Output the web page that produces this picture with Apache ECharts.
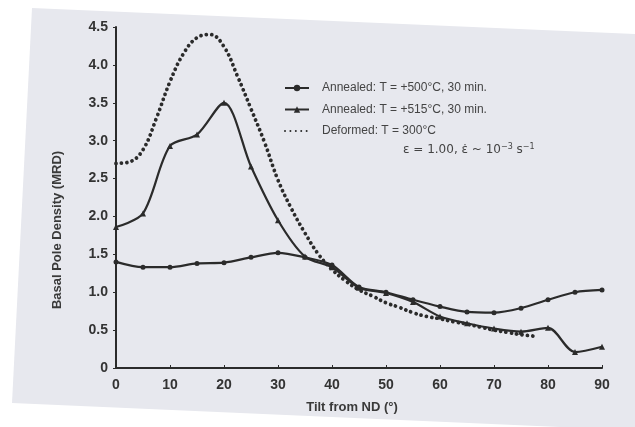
<!DOCTYPE html>
<html>
<head>
<meta charset="utf-8">
<title>Basal Pole Density vs Tilt from ND</title>
<script src="https://cdn.jsdelivr.net/npm/echarts@6/dist/echarts.min.js"></script>
<style>
  html, body { margin: 0; padding: 0; background: #ffffff; }
  #chart { width: 635px; height: 427px; }
</style>
</head>
<body>
<div id="chart"></div>
<script>
// Tilt angles (degrees from ND) for the two annealed conditions
const tiltAnnealed = [0, 5, 10, 15, 20, 25, 30, 35, 40, 45, 50, 55, 60, 65, 70, 75, 80, 85, 90];
// Annealed at +500 °C for 30 min
const annealed500 = [1.40, 1.33, 1.33, 1.38, 1.39, 1.46, 1.52, 1.46, 1.36, 1.07, 1.00, 0.90, 0.81, 0.74, 0.73, 0.79, 0.90, 1.00, 1.03];
// Annealed at +515 °C for 30 min
const annealed515 = [1.86, 2.04, 2.93, 3.08, 3.50, 2.66, 1.95, 1.47, 1.33, 1.06, 0.99, 0.87, 0.68, 0.59, 0.52, 0.48, 0.53, 0.21, 0.28];
// Deformed at 300 °C (finer angular sampling)
const tiltDeformed = [0, 2.5, 5, 7.5, 10, 12.5, 15, 17.5, 20, 22.5, 25, 27.5, 30, 32.5, 35, 37.5, 40, 42.5, 45, 47.5, 50, 52.5, 55, 57.5, 60, 62.5, 65, 67.5, 70, 72.5, 75, 77.5];
const deformed300 = [2.70, 2.72, 2.88, 3.30, 3.78, 4.15, 4.36, 4.40, 4.24, 3.85, 3.42, 2.98, 2.48, 2.10, 1.78, 1.50, 1.30, 1.15, 1.03, 0.95, 0.86, 0.80, 0.73, 0.68, 0.65, 0.61, 0.58, 0.54, 0.50, 0.47, 0.44, 0.42];

const seriesNames = ['Annealed: T = +500°C, 30 min.', 'Annealed: T = +515°C, 30 min.', 'Deformed: T = 300°C'];
const xTicks = { min: 0, max: 90, interval: 10 };
const yTicks = { min: 0, max: 4.5, interval: 0.5 };

const pairs = (xs, ys) => xs.map((x, i) => [x, ys[i]]);

const ink = '#2b2b2b';
const fontFamily = 'Liberation Sans, Arial, sans-serif';
const labelFont = { color: '#333', fontSize: 14, fontWeight: 'bold', fontFamily };

const chart = echarts.init(document.getElementById('chart'), null, { renderer: 'canvas' });

chart.setOption({
  backgroundColor: '#ffffff',
  animation: false,
  graphic: [
    {
      // sheet of paper behind the plot
      type: 'polygon',
      z: -10,
      silent: true,
      shape: { points: [[32, 8], [635, 34], [635, 427], [560, 427], [12, 403]] },
      style: { fill: '#e7e8ee' }
    },
    {
      type: 'text',
      x: 57,
      y: 230,
      rotation: Math.PI / 2,
      style: {
        text: 'Basal Pole Density (MRD)',
        fill: '#3a3a3a',
        font: 'bold 13px ' + fontFamily,
        align: 'center',
        verticalAlign: 'middle'
      }
    },
    {
      type: 'text',
      x: 352,
      y: 407,
      style: {
        text: 'Tilt from ND (°)',
        fill: '#3a3a3a',
        font: 'bold 13px ' + fontFamily,
        align: 'center',
        verticalAlign: 'middle'
      }
    },
    {
      type: 'text',
      x: 403,
      y: 143,
      style: {
        text: '{t|ε = 1.00, ε̇ ~ 10}{s|−3}{t| s}{s|−1}',
        rich: {
          t: { fill: '#444', font: '12px DejaVu Sans, sans-serif' },
          s: { fill: '#444', font: '8px DejaVu Sans, sans-serif', verticalAlign: 'top', padding: [0, 0, 6, 0] }
        }
      }
    }
  ],
  grid: { left: 116, right: 33, top: 27, bottom: 59, containLabel: false },
  legend: {
    orient: 'vertical',
    left: 279,
    top: 77,
    itemWidth: 24,
    itemHeight: 8,
    itemGap: 9.5,
    data: [
      { name: seriesNames[0] },
      { name: seriesNames[1] },
      { name: seriesNames[2], itemStyle: { opacity: 0 } }
    ],
    textStyle: { color: '#444', fontSize: 12, fontFamily, padding: [0, 0, 0, 8] }
  },
  xAxis: {
    type: 'value',
    min: xTicks.min, max: xTicks.max, interval: xTicks.interval,
    axisLine: { show: true, lineStyle: { color: ink, width: 2 } },
    axisTick: { show: true, inside: true, length: 3, lineStyle: { color: ink, width: 1 } },
    axisLabel: Object.assign({ margin: 10 }, labelFont),
    splitLine: { show: false }
  },
  yAxis: {
    type: 'value',
    min: yTicks.min, max: yTicks.max, interval: yTicks.interval,
    axisLine: { show: true, lineStyle: { color: ink, width: 2 } },
    axisTick: { show: true, length: 3, lineStyle: { color: ink, width: 1 } },
    axisLabel: Object.assign({ margin: 8, formatter: v => (v === 0 ? '0' : v.toFixed(1)) }, labelFont),
    splitLine: { show: false }
  },
  series: [
    {
      name: seriesNames[0],
      type: 'line',
      data: pairs(tiltAnnealed, annealed500),
      smooth: 0.3,
      symbol: 'circle',
      symbolSize: 5,
      itemStyle: { color: ink },
      lineStyle: { color: ink, width: 2.2 }
    },
    {
      name: seriesNames[1],
      type: 'line',
      data: pairs(tiltAnnealed, annealed515),
      smooth: 0.3,
      symbol: 'triangle',
      symbolSize: 6,
      itemStyle: { color: ink },
      lineStyle: { color: ink, width: 2.2 }
    },
    {
      name: seriesNames[2],
      type: 'line',
      data: pairs(tiltDeformed, deformed300),
      smooth: 0.4,
      showSymbol: false,
      symbol: 'none',
      itemStyle: { color: ink },
      lineStyle: { color: ink, width: 3.8, type: [0.01, 5.4], cap: 'round' }
    }
  ]
});
</script>
</body>
</html>
